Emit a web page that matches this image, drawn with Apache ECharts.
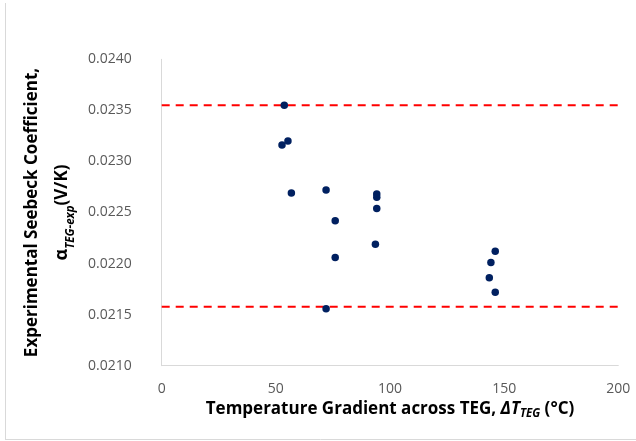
<!DOCTYPE html>
<html>
<head>
<meta charset="utf-8">
<script src="https://cdn.jsdelivr.net/npm/echarts@6/dist/echarts.min.js"></script>
<style>html,body{margin:0;padding:0;background:#fff;}#c{width:636px;height:441px;}</style>
</head>
<body>
<div id="c"></div>
<script>
// Data
var deltaT = [53.7, 52.7, 55.3, 56.8, 72.0, 76.0, 76.0, 72.0, 94.2, 94.2, 94.2, 93.6, 146.1, 144.2, 143.5, 146.1];
var seebeck = [0.02355, 0.02316, 0.02320, 0.02269, 0.02272, 0.02242, 0.02206, 0.021557, 0.02268, 0.02265, 0.02254, 0.02219, 0.02212, 0.02201, 0.02186, 0.02172];
var upperLimit = 0.02355;
var lowerLimit = 0.021576;
var xTicks = [0, 50, 100, 150, 200];
var yTicks = [0.0210, 0.0215, 0.0220, 0.0225, 0.0230, 0.0235, 0.0240];

var points = deltaT.map(function (x, i) { return [x, seebeck[i]]; });
var font = '"Open Sans", "Noto Sans", sans-serif';

var chart = echarts.init(document.getElementById('c'), null, {renderer: 'canvas'});
chart.setOption({
  animation: false,
  backgroundColor: '#ffffff',
  grid: {left: 161.7, top: 59.3, right: 17.7, bottom: 75.3, containLabel: false},
  xAxis: {
    type: 'value',
    min: xTicks[0], max: xTicks[xTicks.length - 1], interval: 50,
    axisLine: {show: true, lineStyle: {color: '#d9d9d9', width: 1}},
    axisTick: {show: false},
    splitLine: {show: false},
    axisLabel: {color: '#595959', fontFamily: font, fontSize: 14, margin: 16},
    name: '{b|Temperature Gradient across TEG, }{bi|ΔT}{sub|TEG}{b| (°C)}',
    nameLocation: 'middle',
    nameGap: 29,
    nameTextStyle: {
      rich: {
        b: {fontFamily: font, fontWeight: 'bold', fontSize: 17, color: '#000', lineHeight: 22, verticalAlign: 'middle'},
        bi: {fontFamily: font, fontWeight: 'bold', fontStyle: 'italic', fontSize: 17, color: '#000', lineHeight: 22, verticalAlign: 'middle'},
        sub: {fontFamily: font, fontWeight: 'bold', fontStyle: 'italic', fontSize: 11.5, color: '#000', lineHeight: 22, verticalAlign: 'bottom', padding: [6, 0, 0, 0]}
      }
    }
  },
  yAxis: {
    type: 'value',
    min: yTicks[0], max: yTicks[yTicks.length - 1], interval: 0.0005,
    axisLine: {show: true, lineStyle: {color: '#d9d9d9', width: 1}},
    axisTick: {show: false},
    splitLine: {show: false},
    axisLabel: {color: '#595959', fontFamily: font, fontSize: 14, margin: 30,
      formatter: function (v) { return v.toFixed(4); }},
    name: '{b|Experimental Seebeck Coefficient,}\n{a|α}{sub|TEG-exp}{b|(V/K)}',
    nameLocation: 'middle',
    nameRotate: 90,
    nameGap: 82,
    nameTextStyle: {
      align: 'center',
      rich: {
        b: {fontFamily: font, fontWeight: 'bold', fontSize: 17, color: '#000', lineHeight: 30, verticalAlign: 'middle'},
        a: {fontFamily: font, fontWeight: 'bold', fontSize: 18, color: '#000', lineHeight: 30, verticalAlign: 'middle'},
        sub: {fontFamily: font, fontWeight: 'bold', fontStyle: 'italic', fontSize: 11.5, color: '#000', lineHeight: 30, verticalAlign: 'bottom', padding: [8, 0, 0, 0]}
      }
    }
  },
  graphic: [
    {type: 'line', shape: {x1: 5.5, y1: 3, x2: 5.5, y2: 439}, style: {stroke: '#d9d9d9', lineWidth: 1}},
    {type: 'line', shape: {x1: 5, y1: 439.5, x2: 636, y2: 439.5}, style: {stroke: '#d9d9d9', lineWidth: 1}}
  ],
  series: [
    {
      type: 'line',
      data: [[xTicks[0], upperLimit], [xTicks[xTicks.length - 1], upperLimit]],
      symbol: 'none',
      lineStyle: {color: '#ff0000', width: 2, type: [8, 6]},
      z: 1
    },
    {
      type: 'line',
      data: [[xTicks[0], lowerLimit], [xTicks[xTicks.length - 1], lowerLimit]],
      symbol: 'none',
      lineStyle: {color: '#ff0000', width: 2, type: [8, 6]},
      z: 1
    },
    {
      type: 'scatter',
      data: points,
      symbol: 'circle',
      symbolSize: 7.5,
      itemStyle: {color: '#002060', opacity: 1},
      z: 3
    }
  ]
});
</script>
</body>
</html>
